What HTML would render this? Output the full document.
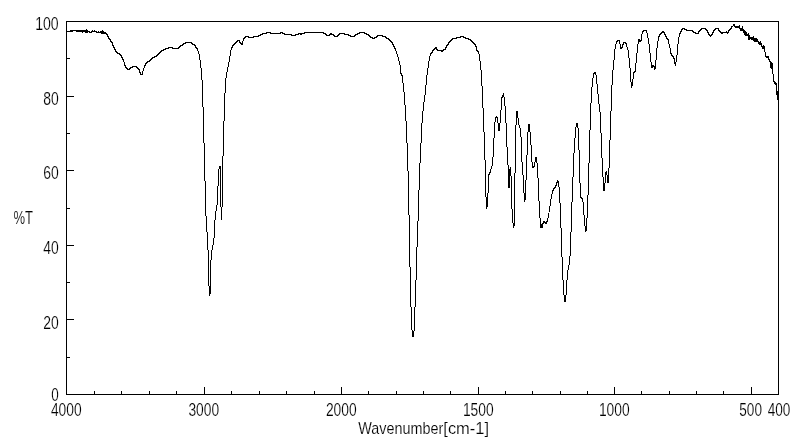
<!DOCTYPE html>
<html lang="en">
<head>
<meta charset="utf-8">
<title>IR Spectrum</title>
<style>
html,body{margin:0;padding:0;background:#fff;}
body{width:800px;height:441px;overflow:hidden;}
svg{display:block;}
text{font-family:"Liberation Sans",sans-serif;fill:#000;stroke:#fff;stroke-width:0.18px;}
</style>
</head>
<body>
<svg width="800" height="441" viewBox="0 0 800 441">
<rect x="0" y="0" width="800" height="441" fill="#fff"/>
<g fill="none" stroke="#000" stroke-width="1" shape-rendering="crispEdges">
<rect x="66.5" y="21.5" width="712.0" height="373.0"/>
<line x1="66.5" y1="58.80" x2="70.0" y2="58.80"/>
<line x1="66.5" y1="96.10" x2="74.0" y2="96.10"/>
<line x1="66.5" y1="133.40" x2="70.0" y2="133.40"/>
<line x1="66.5" y1="170.70" x2="74.0" y2="170.70"/>
<line x1="66.5" y1="208.00" x2="70.0" y2="208.00"/>
<line x1="66.5" y1="245.30" x2="74.0" y2="245.30"/>
<line x1="66.5" y1="282.60" x2="70.0" y2="282.60"/>
<line x1="66.5" y1="319.90" x2="74.0" y2="319.90"/>
<line x1="66.5" y1="357.20" x2="70.0" y2="357.20"/>
<line x1="94.00" y1="394.5" x2="94.00" y2="390.5"/>
<line x1="121.50" y1="394.5" x2="121.50" y2="390.5"/>
<line x1="149.00" y1="394.5" x2="149.00" y2="390.5"/>
<line x1="176.50" y1="394.5" x2="176.50" y2="390.5"/>
<line x1="204.00" y1="394.5" x2="204.00" y2="387.0"/>
<line x1="231.50" y1="394.5" x2="231.50" y2="390.5"/>
<line x1="259.00" y1="394.5" x2="259.00" y2="390.5"/>
<line x1="286.50" y1="394.5" x2="286.50" y2="390.5"/>
<line x1="314.00" y1="394.5" x2="314.00" y2="390.5"/>
<line x1="341.50" y1="394.5" x2="341.50" y2="387.0"/>
<line x1="368.81" y1="394.5" x2="368.81" y2="390.5"/>
<line x1="396.12" y1="394.5" x2="396.12" y2="390.5"/>
<line x1="423.44" y1="394.5" x2="423.44" y2="390.5"/>
<line x1="450.75" y1="394.5" x2="450.75" y2="390.5"/>
<line x1="478.06" y1="394.5" x2="478.06" y2="387.0"/>
<line x1="505.38" y1="394.5" x2="505.38" y2="390.5"/>
<line x1="532.69" y1="394.5" x2="532.69" y2="390.5"/>
<line x1="560.00" y1="394.5" x2="560.00" y2="390.5"/>
<line x1="587.31" y1="394.5" x2="587.31" y2="390.5"/>
<line x1="614.62" y1="394.5" x2="614.62" y2="387.0"/>
<line x1="641.94" y1="394.5" x2="641.94" y2="390.5"/>
<line x1="669.25" y1="394.5" x2="669.25" y2="390.5"/>
<line x1="696.56" y1="394.5" x2="696.56" y2="390.5"/>
<line x1="723.88" y1="394.5" x2="723.88" y2="390.5"/>
<line x1="751.19" y1="394.5" x2="751.19" y2="387.0"/>
</g>
<path fill="#000" stroke="none" shape-rendering="crispEdges" d="M66 31h1v1h-1zM67 31h1v1h-1zM68 31h1v1h-1zM69 31h1v1h-1zM70 30h1v2h-1zM71 30h1v2h-1zM72 30h1v2h-1zM73 30h1v1h-1zM74 30h1v1h-1zM75 30h1v1h-1zM76 30h1v2h-1zM77 30h1v2h-1zM78 30h1v2h-1zM79 30h1v2h-1zM80 30h1v2h-1zM81 30h1v2h-1zM82 30h1v3h-1zM83 30h1v2h-1zM84 30h1v2h-1zM85 30h1v3h-1zM86 29h1v4h-1zM87 30h1v3h-1zM88 31h1v1h-1zM89 31h1v2h-1zM90 32h1v1h-1zM91 31h1v2h-1zM92 30h1v2h-1zM93 31h1v1h-1zM94 30h1v2h-1zM95 31h1v1h-1zM96 31h1v2h-1zM97 32h1v1h-1zM98 31h1v2h-1zM99 32h1v1h-1zM100 31h1v2h-1zM101 31h1v3h-1zM102 30h1v4h-1zM103 31h1v3h-1zM104 32h1v2h-1zM105 32h1v2h-1zM106 33h1v2h-1zM107 34h1v3h-1zM108 36h1v3h-1zM109 38h1v2h-1zM110 39h1v3h-1zM111 41h1v2h-1zM112 42h1v4h-1zM113 45h1v3h-1zM114 47h1v3h-1zM115 49h1v3h-1zM116 51h1v2h-1zM117 52h1v2h-1zM118 53h1v1h-1zM119 53h1v2h-1zM120 54h1v2h-1zM121 55h1v3h-1zM122 57h1v3h-1zM123 59h1v3h-1zM124 62h1v4h-1zM125 65h1v3h-1zM126 67h1v2h-1zM127 68h1v2h-1zM128 69h1v1h-1zM129 68h1v2h-1zM130 67h1v2h-1zM131 67h1v1h-1zM132 66h1v2h-1zM133 66h1v1h-1zM134 66h1v1h-1zM135 66h1v1h-1zM136 66h1v2h-1zM137 67h1v2h-1zM138 68h1v2h-1zM139 69h1v4h-1zM140 72h1v3h-1zM141 74h1v1h-1zM142 71h1v4h-1zM143 68h1v3h-1zM144 65h1v3h-1zM145 63h1v3h-1zM146 62h1v2h-1zM147 61h1v2h-1zM148 61h1v1h-1zM149 60h1v2h-1zM150 59h1v2h-1zM151 58h1v2h-1zM152 57h1v2h-1zM153 57h1v1h-1zM154 56h1v2h-1zM155 56h1v1h-1zM156 55h1v2h-1zM157 54h1v2h-1zM158 53h1v2h-1zM159 52h1v2h-1zM160 51h1v2h-1zM161 50h1v2h-1zM162 50h1v1h-1zM163 49h1v2h-1zM164 49h1v1h-1zM165 48h1v2h-1zM166 48h1v1h-1zM167 48h1v1h-1zM168 47h1v2h-1zM169 47h1v1h-1zM170 47h1v1h-1zM171 47h1v1h-1zM172 47h1v2h-1zM173 48h1v1h-1zM174 48h1v1h-1zM175 48h1v1h-1zM176 48h1v1h-1zM177 48h1v1h-1zM178 47h1v2h-1zM179 46h1v2h-1zM180 45h1v2h-1zM181 45h1v1h-1zM182 44h1v2h-1zM183 43h1v2h-1zM184 43h1v1h-1zM185 42h1v2h-1zM186 42h1v1h-1zM187 42h1v1h-1zM188 42h1v1h-1zM189 42h1v1h-1zM190 42h1v1h-1zM191 42h1v2h-1zM192 43h1v2h-1zM193 44h1v1h-1zM194 44h1v2h-1zM195 45h1v3h-1zM196 47h1v2h-1zM197 48h1v3h-1zM198 51h1v3h-1zM199 54h1v6h-1zM200 60h1v8h-1zM201 68h1v12h-1zM202 80h1v27h-1zM203 107h1v36h-1zM204 143h1v38h-1zM205 181h1v35h-1zM206 216h1v16h-1zM207 232h1v18h-1zM208 250h1v36h-1zM209 286h1v10h-1zM210 260h1v34h-1zM211 250h1v10h-1zM212 245h1v5h-1zM213 238h1v7h-1zM214 220h1v18h-1zM215 211h1v9h-1zM216 205h1v6h-1zM217 186h1v19h-1zM218 169h1v17h-1zM219 166h1v3h-1zM220 166h1v41h-1zM221 207h1v13h-1zM222 156h1v51h-1zM223 121h1v35h-1zM224 93h1v28h-1zM225 78h1v15h-1zM226 72h1v6h-1zM227 67h1v5h-1zM228 62h1v5h-1zM229 56h1v6h-1zM230 50h1v6h-1zM231 47h1v3h-1zM232 45h1v3h-1zM233 44h1v2h-1zM234 43h1v2h-1zM235 42h1v2h-1zM236 41h1v2h-1zM237 40h1v2h-1zM238 40h1v1h-1zM239 40h1v3h-1zM240 42h1v2h-1zM241 43h1v2h-1zM242 41h1v4h-1zM243 38h1v3h-1zM244 37h1v2h-1zM245 36h1v2h-1zM246 36h1v1h-1zM247 36h1v1h-1zM248 36h1v2h-1zM249 37h1v1h-1zM250 37h1v1h-1zM251 37h1v1h-1zM252 37h1v1h-1zM253 36h1v2h-1zM254 36h1v1h-1zM255 36h1v1h-1zM256 36h1v1h-1zM257 36h1v1h-1zM258 35h1v2h-1zM259 35h1v1h-1zM260 34h1v2h-1zM261 34h1v1h-1zM262 33h1v2h-1zM263 33h1v1h-1zM264 33h1v1h-1zM265 33h1v1h-1zM266 32h1v2h-1zM267 32h1v1h-1zM268 32h1v1h-1zM269 32h1v1h-1zM270 32h1v2h-1zM271 33h1v1h-1zM272 33h1v1h-1zM273 33h1v1h-1zM274 33h1v1h-1zM275 33h1v1h-1zM276 33h1v1h-1zM277 33h1v1h-1zM278 33h1v1h-1zM279 33h1v1h-1zM280 32h1v2h-1zM281 32h1v1h-1zM282 32h1v2h-1zM283 33h1v1h-1zM284 33h1v2h-1zM285 34h1v1h-1zM286 34h1v1h-1zM287 34h1v1h-1zM288 34h1v1h-1zM289 34h1v1h-1zM290 34h1v1h-1zM291 34h1v2h-1zM292 35h1v1h-1zM293 35h1v1h-1zM294 35h1v1h-1zM295 34h1v2h-1zM296 34h1v1h-1zM297 34h1v1h-1zM298 33h1v2h-1zM299 33h1v1h-1zM300 33h1v2h-1zM301 33h1v2h-1zM302 33h1v1h-1zM303 33h1v1h-1zM304 32h1v2h-1zM305 32h1v1h-1zM306 32h1v1h-1zM307 32h1v1h-1zM308 32h1v1h-1zM309 32h1v1h-1zM310 32h1v1h-1zM311 32h1v1h-1zM312 32h1v1h-1zM313 32h1v1h-1zM314 32h1v1h-1zM315 32h1v1h-1zM316 32h1v1h-1zM317 32h1v1h-1zM318 32h1v1h-1zM319 32h1v1h-1zM320 32h1v1h-1zM321 32h1v1h-1zM322 32h1v1h-1zM323 32h1v2h-1zM324 33h1v1h-1zM325 33h1v2h-1zM326 34h1v2h-1zM327 35h1v1h-1zM328 35h1v1h-1zM329 34h1v2h-1zM330 33h1v2h-1zM331 33h1v2h-1zM332 34h1v1h-1zM333 34h1v2h-1zM334 35h1v2h-1zM335 36h1v1h-1zM336 36h1v1h-1zM337 35h1v2h-1zM338 34h1v2h-1zM339 33h1v2h-1zM340 33h1v1h-1zM341 33h1v1h-1zM342 33h1v1h-1zM343 33h1v1h-1zM344 33h1v2h-1zM345 34h1v1h-1zM346 34h1v1h-1zM347 34h1v1h-1zM348 34h1v2h-1zM349 35h1v1h-1zM350 35h1v2h-1zM351 36h1v1h-1zM352 36h1v1h-1zM353 36h1v1h-1zM354 35h1v2h-1zM355 34h1v2h-1zM356 34h1v1h-1zM357 33h1v2h-1zM358 33h1v1h-1zM359 32h1v2h-1zM360 32h1v1h-1zM361 32h1v1h-1zM362 32h1v1h-1zM363 32h1v1h-1zM364 32h1v2h-1zM365 33h1v1h-1zM366 33h1v2h-1zM367 34h1v1h-1zM368 34h1v2h-1zM369 35h1v2h-1zM370 36h1v2h-1zM371 37h1v1h-1zM372 37h1v2h-1zM373 38h1v1h-1zM374 37h1v2h-1zM375 37h1v1h-1zM376 36h1v2h-1zM377 35h1v2h-1zM378 35h1v1h-1zM379 35h1v1h-1zM380 35h1v1h-1zM381 35h1v1h-1zM382 35h1v2h-1zM383 36h1v1h-1zM384 36h1v1h-1zM385 36h1v2h-1zM386 37h1v2h-1zM387 38h1v1h-1zM388 38h1v2h-1zM389 39h1v2h-1zM390 40h1v2h-1zM391 41h1v2h-1zM392 42h1v3h-1zM393 44h1v3h-1zM394 46h1v3h-1zM395 48h1v3h-1zM396 51h1v3h-1zM397 54h1v3h-1zM398 57h1v4h-1zM399 61h1v4h-1zM400 65h1v9h-1zM401 73h1v3h-1zM402 75h1v8h-1zM403 83h1v9h-1zM404 92h1v13h-1zM405 105h1v16h-1zM406 121h1v22h-1zM407 143h1v28h-1zM408 171h1v44h-1zM409 215h1v52h-1zM410 267h1v40h-1zM411 307h1v23h-1zM412 330h1v7h-1zM413 331h1v6h-1zM414 307h1v24h-1zM415 280h1v27h-1zM416 247h1v33h-1zM417 221h1v26h-1zM418 190h1v31h-1zM419 163h1v27h-1zM420 143h1v20h-1zM421 123h1v20h-1zM422 111h1v12h-1zM423 102h1v9h-1zM424 95h1v7h-1zM425 85h1v10h-1zM426 75h1v10h-1zM427 68h1v7h-1zM428 61h1v7h-1zM429 56h1v5h-1zM430 53h1v3h-1zM431 52h1v2h-1zM432 50h1v3h-1zM433 49h1v2h-1zM434 48h1v2h-1zM435 47h1v2h-1zM436 47h1v3h-1zM437 49h1v2h-1zM438 50h1v1h-1zM439 50h1v1h-1zM440 50h1v1h-1zM441 50h1v2h-1zM442 50h1v2h-1zM443 49h1v2h-1zM444 49h1v1h-1zM445 47h1v3h-1zM446 45h1v3h-1zM447 44h1v2h-1zM448 42h1v3h-1zM449 41h1v2h-1zM450 40h1v2h-1zM451 39h1v2h-1zM452 38h1v2h-1zM453 38h1v1h-1zM454 38h1v1h-1zM455 38h1v1h-1zM456 37h1v2h-1zM457 37h1v1h-1zM458 37h1v1h-1zM459 37h1v1h-1zM460 36h1v2h-1zM461 36h1v1h-1zM462 36h1v1h-1zM463 36h1v2h-1zM464 37h1v1h-1zM465 37h1v2h-1zM466 38h1v1h-1zM467 38h1v1h-1zM468 38h1v2h-1zM469 39h1v1h-1zM470 39h1v2h-1zM471 40h1v2h-1zM472 41h1v2h-1zM473 42h1v2h-1zM474 43h1v2h-1zM475 44h1v3h-1zM476 46h1v5h-1zM477 50h1v2h-1zM478 51h1v3h-1zM479 54h1v7h-1zM480 61h1v9h-1zM481 70h1v16h-1zM482 86h1v22h-1zM483 108h1v24h-1zM484 132h1v28h-1zM485 160h1v37h-1zM486 197h1v12h-1zM487 193h1v14h-1zM488 174h1v19h-1zM489 172h1v3h-1zM490 169h1v4h-1zM491 166h1v3h-1zM492 157h1v9h-1zM493 138h1v19h-1zM494 122h1v16h-1zM495 117h1v5h-1zM496 116h1v2h-1zM497 117h1v6h-1zM498 123h1v8h-1zM499 123h1v8h-1zM500 110h1v13h-1zM501 97h1v13h-1zM502 95h1v3h-1zM503 93h1v4h-1zM504 97h1v9h-1zM505 106h1v17h-1zM506 123h1v24h-1zM507 147h1v18h-1zM508 165h1v23h-1zM509 169h1v19h-1zM510 167h1v9h-1zM511 176h1v33h-1zM512 209h1v14h-1zM513 223h1v5h-1zM514 173h1v53h-1zM515 125h1v48h-1zM516 111h1v14h-1zM517 111h1v7h-1zM518 118h1v7h-1zM519 125h1v3h-1zM520 128h1v9h-1zM521 137h1v25h-1zM522 162h1v13h-1zM523 175h1v18h-1zM524 193h1v9h-1zM525 180h1v20h-1zM526 155h1v25h-1zM527 132h1v23h-1zM528 124h1v8h-1zM529 124h1v8h-1zM530 132h1v13h-1zM531 145h1v17h-1zM532 162h1v6h-1zM533 166h1v2h-1zM534 162h1v5h-1zM535 157h1v5h-1zM536 157h1v6h-1zM537 163h1v15h-1zM538 178h1v23h-1zM539 201h1v17h-1zM540 218h1v10h-1zM541 224h1v4h-1zM542 223h1v5h-1zM543 221h1v3h-1zM544 221h1v2h-1zM545 222h1v2h-1zM546 221h1v3h-1zM547 218h1v4h-1zM548 213h1v5h-1zM549 206h1v6h-1zM550 199h1v7h-1zM551 194h1v5h-1zM552 190h1v4h-1zM553 188h1v3h-1zM554 187h1v2h-1zM555 185h1v3h-1zM556 182h1v4h-1zM557 180h1v3h-1zM558 181h1v6h-1zM559 187h1v16h-1zM560 203h1v25h-1zM561 228h1v29h-1zM562 257h1v23h-1zM563 280h1v15h-1zM564 295h1v7h-1zM565 295h1v7h-1zM566 280h1v15h-1zM567 270h1v10h-1zM568 265h1v5h-1zM569 256h1v9h-1zM570 232h1v24h-1zM571 202h1v30h-1zM572 177h1v25h-1zM573 153h1v24h-1zM574 138h1v15h-1zM575 127h1v11h-1zM576 123h1v4h-1zM577 123h1v5h-1zM578 128h1v22h-1zM579 150h1v33h-1zM580 183h1v15h-1zM581 197h1v2h-1zM582 198h1v4h-1zM583 202h1v13h-1zM584 215h1v11h-1zM585 226h1v6h-1zM586 218h1v13h-1zM587 195h1v23h-1zM588 163h1v32h-1zM589 130h1v33h-1zM590 103h1v27h-1zM591 87h1v16h-1zM592 78h1v9h-1zM593 73h1v5h-1zM594 72h1v2h-1zM595 72h1v3h-1zM596 75h1v9h-1zM597 84h1v10h-1zM598 94h1v10h-1zM599 104h1v8h-1zM600 112h1v21h-1zM601 133h1v25h-1zM602 158h1v19h-1zM603 177h1v14h-1zM604 183h1v8h-1zM605 172h1v11h-1zM606 171h1v4h-1zM607 175h1v8h-1zM608 168h1v15h-1zM609 140h1v28h-1zM610 111h1v29h-1zM611 85h1v26h-1zM612 70h1v15h-1zM613 60h1v10h-1zM614 49h1v11h-1zM615 44h1v5h-1zM616 41h1v3h-1zM617 40h1v2h-1zM618 40h1v1h-1zM619 40h1v4h-1zM620 44h1v5h-1zM621 47h1v2h-1zM622 44h1v4h-1zM623 42h1v3h-1zM624 42h1v1h-1zM625 42h1v2h-1zM626 43h1v4h-1zM627 47h1v3h-1zM628 50h1v8h-1zM629 58h1v10h-1zM630 68h1v14h-1zM631 82h1v6h-1zM632 79h1v7h-1zM633 72h1v7h-1zM634 71h1v2h-1zM635 63h1v9h-1zM636 53h1v10h-1zM637 44h1v9h-1zM638 39h1v5h-1zM639 39h1v3h-1zM640 40h1v2h-1zM641 34h1v7h-1zM642 31h1v3h-1zM643 30h1v2h-1zM644 30h1v1h-1zM645 30h1v1h-1zM646 30h1v3h-1zM647 33h1v5h-1zM648 38h1v6h-1zM649 44h1v9h-1zM650 53h1v9h-1zM651 62h1v6h-1zM652 65h1v3h-1zM653 65h1v2h-1zM654 66h1v4h-1zM655 60h1v9h-1zM656 48h1v12h-1zM657 41h1v7h-1zM658 36h1v5h-1zM659 34h1v3h-1zM660 33h1v2h-1zM661 32h1v2h-1zM662 31h1v2h-1zM663 31h1v2h-1zM664 32h1v3h-1zM665 34h1v3h-1zM666 36h1v3h-1zM667 38h1v2h-1zM668 39h1v5h-1zM669 44h1v4h-1zM670 48h1v6h-1zM671 53h1v3h-1zM672 55h1v2h-1zM673 56h1v3h-1zM674 58h1v6h-1zM675 62h1v4h-1zM676 55h1v7h-1zM677 44h1v11h-1zM678 37h1v7h-1zM679 33h1v4h-1zM680 31h1v3h-1zM681 29h1v3h-1zM682 28h1v2h-1zM683 28h1v1h-1zM684 28h1v2h-1zM685 29h1v1h-1zM686 29h1v2h-1zM687 30h1v1h-1zM688 30h1v1h-1zM689 30h1v1h-1zM690 30h1v1h-1zM691 30h1v1h-1zM692 30h1v2h-1zM693 31h1v2h-1zM694 32h1v1h-1zM695 32h1v2h-1zM696 33h1v1h-1zM697 33h1v1h-1zM698 31h1v3h-1zM699 30h1v2h-1zM700 29h1v2h-1zM701 28h1v2h-1zM702 28h1v1h-1zM703 28h1v1h-1zM704 28h1v1h-1zM705 28h1v2h-1zM706 29h1v2h-1zM707 30h1v3h-1zM708 32h1v3h-1zM709 34h1v2h-1zM710 35h1v2h-1zM711 34h1v2h-1zM712 32h1v3h-1zM713 30h1v3h-1zM714 29h1v2h-1zM715 28h1v2h-1zM716 28h1v1h-1zM717 28h1v1h-1zM718 28h1v3h-1zM719 30h1v2h-1zM720 31h1v2h-1zM721 32h1v2h-1zM722 32h1v2h-1zM723 32h1v1h-1zM724 32h1v1h-1zM725 32h1v1h-1zM726 31h1v2h-1zM727 32h1v2h-1zM728 30h1v3h-1zM729 29h1v2h-1zM730 28h1v2h-1zM731 26h1v3h-1zM732 26h1v1h-1zM733 24h1v2h-1zM734 24h1v3h-1zM735 26h1v2h-1zM736 26h1v2h-1zM737 26h1v2h-1zM738 26h1v2h-1zM739 25h1v4h-1zM740 28h1v3h-1zM741 28h1v3h-1zM742 26h1v5h-1zM743 29h1v4h-1zM744 30h1v5h-1zM745 31h1v5h-1zM746 32h1v4h-1zM747 34h1v2h-1zM748 33h1v7h-1zM749 35h1v5h-1zM750 37h1v2h-1zM751 37h1v3h-1zM752 37h1v3h-1zM753 36h1v5h-1zM754 38h1v4h-1zM755 38h1v4h-1zM756 38h1v4h-1zM757 39h1v3h-1zM758 41h1v3h-1zM759 42h1v3h-1zM760 41h1v4h-1zM761 43h1v4h-1zM762 46h1v3h-1zM763 45h1v4h-1zM764 46h1v6h-1zM765 52h1v5h-1zM766 56h1v2h-1zM767 56h1v2h-1zM768 56h1v4h-1zM769 59h1v3h-1zM770 61h1v7h-1zM771 62h1v7h-1zM772 63h1v11h-1zM773 74h1v8h-1zM774 81h1v3h-1zM775 82h1v3h-1zM776 83h1v12h-1zM777 91h1v9h-1zM778 99h1v1h-1z"/>
<g>
<text x="35.2" y="30.1" font-size="18" textLength="23.5" lengthAdjust="spacingAndGlyphs" text-anchor="start">100</text>
<text x="43.2" y="104.7" font-size="18" textLength="15.5" lengthAdjust="spacingAndGlyphs" text-anchor="start">80</text>
<text x="43.2" y="179.3" font-size="18" textLength="15.5" lengthAdjust="spacingAndGlyphs" text-anchor="start">60</text>
<text x="43.2" y="253.9" font-size="18" textLength="15.5" lengthAdjust="spacingAndGlyphs" text-anchor="start">40</text>
<text x="43.2" y="328.5" font-size="18" textLength="15.5" lengthAdjust="spacingAndGlyphs" text-anchor="start">20</text>
<text x="51.2" y="401.1" font-size="18" textLength="7.5" lengthAdjust="spacingAndGlyphs" text-anchor="start">0</text>
<text x="50.9" y="416" font-size="18" textLength="30.7" lengthAdjust="spacingAndGlyphs" text-anchor="start">4000</text>
<text x="188.4" y="416" font-size="18" textLength="30.7" lengthAdjust="spacingAndGlyphs" text-anchor="start">3000</text>
<text x="325.9" y="416" font-size="18" textLength="30.7" lengthAdjust="spacingAndGlyphs" text-anchor="start">2000</text>
<text x="462.9" y="416" font-size="18" textLength="30.7" lengthAdjust="spacingAndGlyphs" text-anchor="start">1500</text>
<text x="598.9" y="416" font-size="18" textLength="30.7" lengthAdjust="spacingAndGlyphs" text-anchor="start">1000</text>
<text x="739.3" y="416" font-size="18" textLength="22.7" lengthAdjust="spacingAndGlyphs" text-anchor="start">500</text>
<text x="767.7" y="416" font-size="18" textLength="22.7" lengthAdjust="spacingAndGlyphs" text-anchor="start">400</text>
<text x="13.5" y="224" font-size="18" textLength="19.5" lengthAdjust="spacingAndGlyphs" text-anchor="start">%T</text>
<text y="434.3" font-size="17"><tspan x="358.2" textLength="85" lengthAdjust="spacingAndGlyphs">Wavenumber</tspan><tspan x="443.3" textLength="45.8" lengthAdjust="spacingAndGlyphs">[cm-1]</tspan></text>
</g>
</svg>
</body>
</html>
